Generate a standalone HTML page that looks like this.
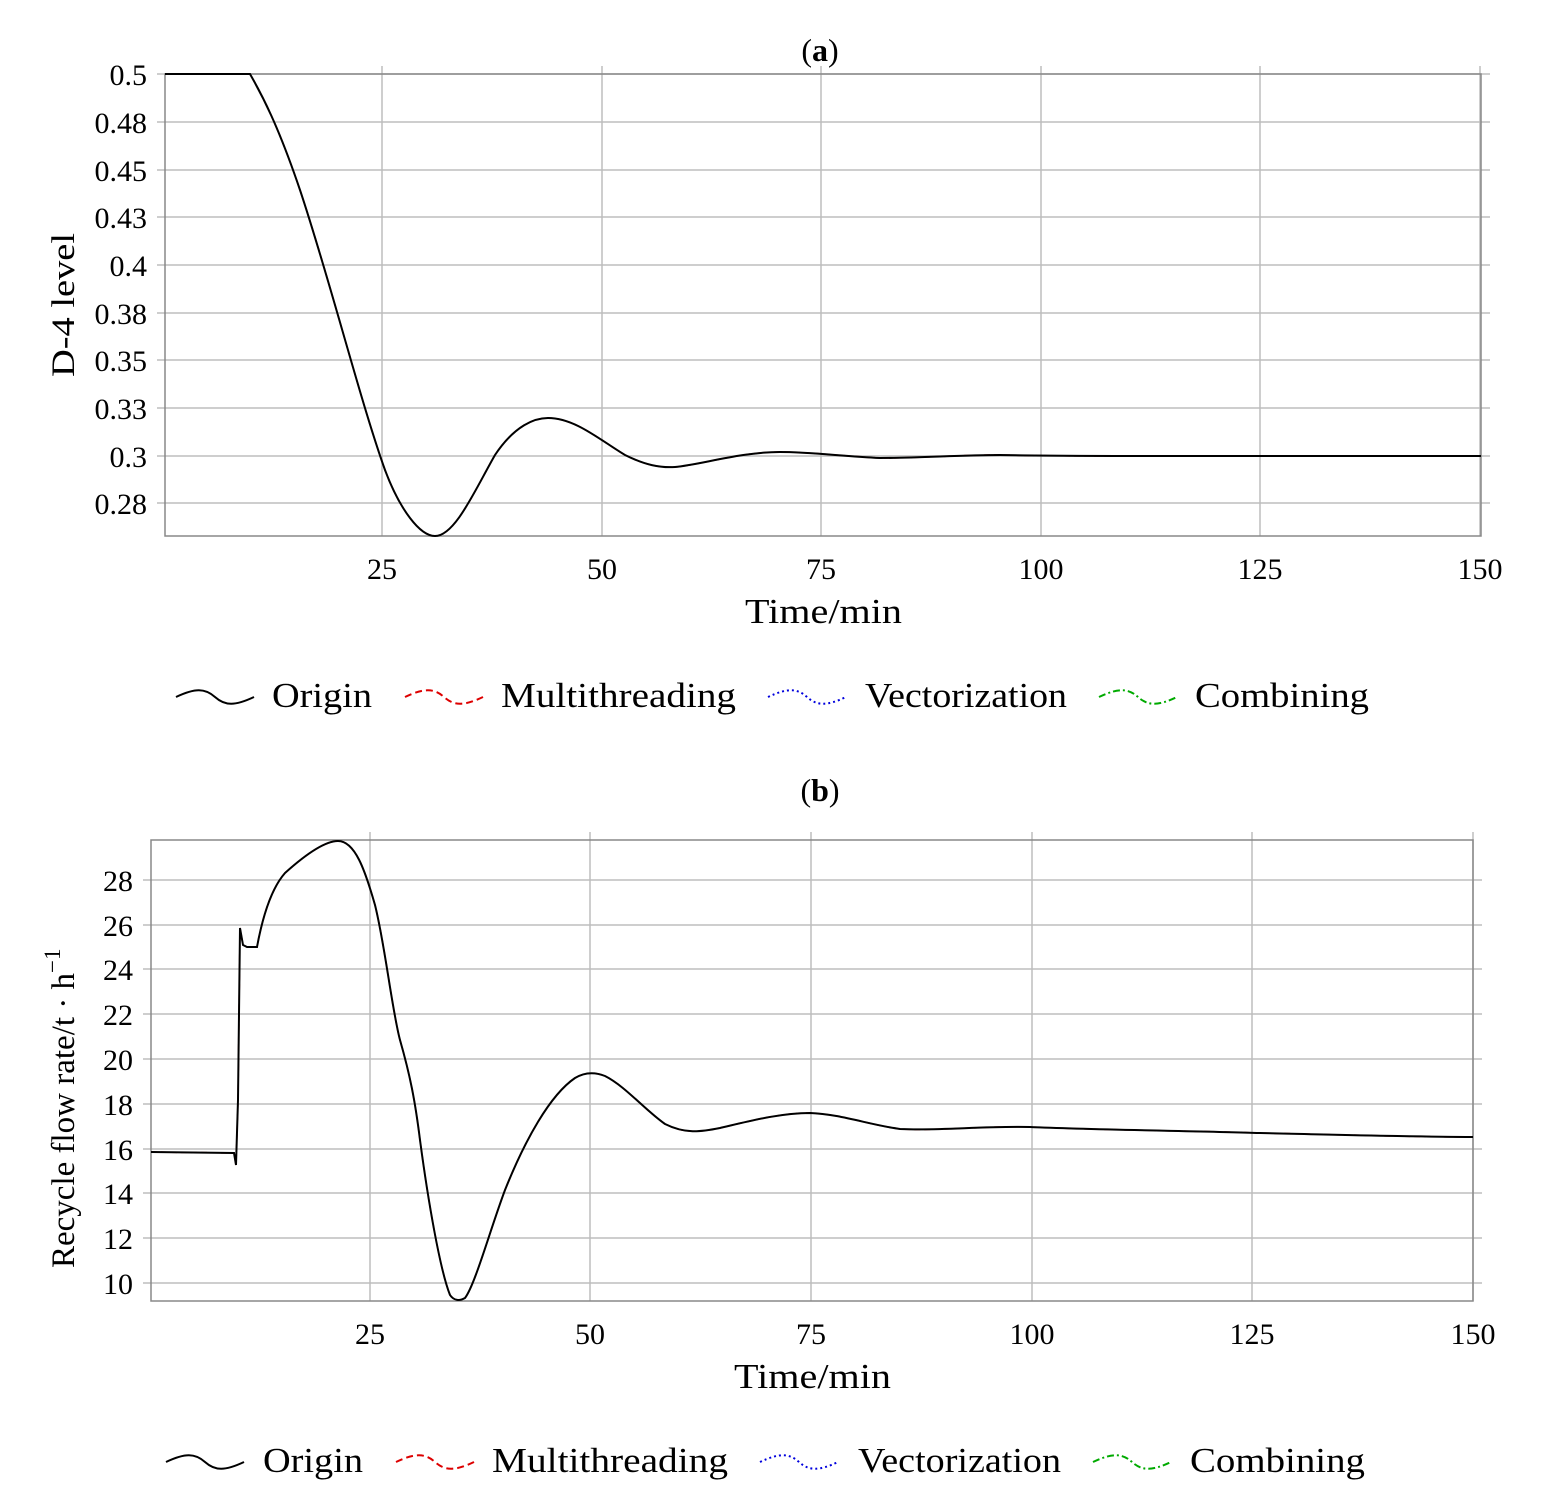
<!DOCTYPE html>
<html><head><meta charset="utf-8"><style>
body{margin:0;background:#fff}
svg{display:block;font-family:"Liberation Serif",serif}
</style></head><body>
<svg width="1547" height="1505" viewBox="0 0 1547 1505" xmlns="http://www.w3.org/2000/svg">
<!-- Plot A -->
<text x="820" y="61" font-size="32" text-anchor="middle">(<tspan font-weight="bold">a</tspan>)</text>
<g stroke="#bdbdbd" stroke-width="1.5">
<line x1="382" y1="66" x2="382" y2="536"/><line x1="602" y1="66" x2="602" y2="536"/><line x1="821" y1="66" x2="821" y2="536"/><line x1="1041" y1="66" x2="1041" y2="536"/><line x1="1260" y1="66" x2="1260" y2="536"/><line x1="1480" y1="66" x2="1480" y2="536"/>
<line x1="157" y1="74" x2="1490" y2="74"/><line x1="157" y1="122" x2="1490" y2="122"/><line x1="157" y1="170" x2="1490" y2="170"/><line x1="157" y1="217" x2="1490" y2="217"/><line x1="157" y1="265" x2="1490" y2="265"/><line x1="157" y1="313" x2="1490" y2="313"/><line x1="157" y1="360" x2="1490" y2="360"/><line x1="157" y1="408" x2="1490" y2="408"/><line x1="157" y1="456" x2="1490" y2="456"/><line x1="157" y1="503" x2="1490" y2="503"/>
</g>
<rect x="165" y="74" width="1316" height="462" fill="none" stroke="#888" stroke-width="1.5"/>
<g font-size="30" text-anchor="end">
<text x="147" y="85">0.5</text><text x="147" y="133">0.48</text><text x="147" y="181">0.45</text><text x="147" y="228">0.43</text><text x="147" y="276">0.4</text><text x="147" y="324">0.38</text><text x="147" y="371">0.35</text><text x="147" y="419">0.33</text><text x="147" y="467">0.3</text><text x="147" y="514">0.28</text>
</g>
<g font-size="30" text-anchor="middle">
<text x="382" y="579">25</text><text x="602" y="579">50</text><text x="821" y="579">75</text><text x="1041" y="579">100</text><text x="1260" y="579">125</text><text x="1480" y="579">150</text>
</g>
<text x="745" y="623" font-size="35" textLength="157" lengthAdjust="spacingAndGlyphs">Time/min</text>
<text transform="translate(74,377) rotate(-90)" font-size="33" textLength="144" lengthAdjust="spacingAndGlyphs">D-4 level</text>
<path d="M165,74 L250,74 C262,95 278,125 300,190 C330,280 360,400 385,470 C400,510 420,536 435,536 C455,536 475,490 495,455 C515,425 535,418 548,418 C575,418 600,440 625,455 C645,465 660,468 675,467 C700,465 740,452 780,452 C810,452 840,456 880,458 C920,458 960,455 1000,455 C1050,456 1100,456 1150,456 L1481,456" fill="none" stroke="#d00" stroke-width="1.5" stroke-dasharray="6,4"/>
<path d="M165,74 L250,74 C262,95 278,125 300,190 C330,280 360,400 385,470 C400,510 420,536 435,536 C455,536 475,490 495,455 C515,425 535,418 548,418 C575,418 600,440 625,455 C645,465 660,468 675,467 C700,465 740,452 780,452 C810,452 840,456 880,458 C920,458 960,455 1000,455 C1050,456 1100,456 1150,456 L1481,456" fill="none" stroke="#000" stroke-width="2"/>
<!-- Legend A -->
<g font-size="35">
<path d="M176,697 C195,688 205,688 215,697 C225,706 235,706 254,697" fill="none" stroke="#000" stroke-width="2"/>
<text x="272" y="707" textLength="100" lengthAdjust="spacingAndGlyphs">Origin</text>
<path d="M405,697 C424,688 434,688 444,697 C454,706 464,706 483,697" fill="none" stroke="#d00" stroke-width="2" stroke-dasharray="7,4"/>
<text x="501" y="707" textLength="235" lengthAdjust="spacingAndGlyphs">Multithreading</text>
<path d="M768,697 C787,688 797,688 807,697 C817,706 827,706 846,697" fill="none" stroke="#00d" stroke-width="2" stroke-dasharray="2,3"/>
<text x="865" y="707" textLength="202" lengthAdjust="spacingAndGlyphs">Vectorization</text>
<path d="M1099,697 C1118,688 1128,688 1138,697 C1148,706 1158,706 1177,697" fill="none" stroke="#0a0" stroke-width="2" stroke-dasharray="7,3,2,3"/>
<text x="1195" y="707" textLength="174" lengthAdjust="spacingAndGlyphs">Combining</text>
</g>
<!-- Plot B -->
<text x="820" y="801" font-size="32" text-anchor="middle">(<tspan font-weight="bold">b</tspan>)</text>
<g stroke="#bdbdbd" stroke-width="1.5">
<line x1="370" y1="832" x2="370" y2="1301"/><line x1="590" y1="832" x2="590" y2="1301"/><line x1="811" y1="832" x2="811" y2="1301"/><line x1="1032" y1="832" x2="1032" y2="1301"/><line x1="1252" y1="832" x2="1252" y2="1301"/><line x1="1473" y1="832" x2="1473" y2="1301"/>
<line x1="143" y1="880" x2="1482" y2="880"/><line x1="143" y1="925" x2="1482" y2="925"/><line x1="143" y1="969" x2="1482" y2="969"/><line x1="143" y1="1014" x2="1482" y2="1014"/><line x1="143" y1="1059" x2="1482" y2="1059"/><line x1="143" y1="1104" x2="1482" y2="1104"/><line x1="143" y1="1149" x2="1482" y2="1149"/><line x1="143" y1="1193" x2="1482" y2="1193"/><line x1="143" y1="1238" x2="1482" y2="1238"/><line x1="143" y1="1283" x2="1482" y2="1283"/>
</g>
<rect x="151" y="840" width="1322" height="461" fill="none" stroke="#888" stroke-width="1.5"/>
<g font-size="30" text-anchor="end">
<text x="133" y="891">28</text><text x="133" y="936">26</text><text x="133" y="980">24</text><text x="133" y="1025">22</text><text x="133" y="1070">20</text><text x="133" y="1115">18</text><text x="133" y="1160">16</text><text x="133" y="1204">14</text><text x="133" y="1249">12</text><text x="133" y="1294">10</text>
</g>
<g font-size="30" text-anchor="middle">
<text x="370" y="1344">25</text><text x="590" y="1344">50</text><text x="811" y="1344">75</text><text x="1032" y="1344">100</text><text x="1252" y="1344">125</text><text x="1473" y="1344">150</text>
</g>
<text x="734" y="1388" font-size="35" textLength="157" lengthAdjust="spacingAndGlyphs">Time/min</text>
<text transform="translate(74,1268) rotate(-90)" font-size="33">Recycle flow rate/t · h<tspan dy="-14" font-size="23">−1</tspan></text>
<path d="M151,1152 L234,1153 L236,1165 L238,1100 L240,928 L243,945 L247,947 L257,947 C262,920 270,890 285,873 C305,855 325,841 338,841 C355,841 365,870 375,905 C385,945 392,1010 400,1040 C410,1075 415,1100 420,1140 C428,1200 440,1270 450,1295 C454,1301 460,1301 465,1298 C475,1285 490,1230 505,1190 C525,1140 550,1095 575,1078 C585,1072 595,1072 605,1076 C625,1086 645,1110 665,1124 C685,1134 700,1132 720,1128 C750,1121 780,1113 810,1113 C840,1114 870,1125 900,1129 C940,1131 980,1126 1030,1127 C1100,1130 1200,1131 1260,1133 C1350,1135 1420,1137 1473,1137" fill="none" stroke="#d00" stroke-width="1.5" stroke-dasharray="6,4"/>
<path d="M151,1152 L234,1153 L236,1165 L238,1100 L240,928 L243,945 L247,947 L257,947 C262,920 270,890 285,873 C305,855 325,841 338,841 C355,841 365,870 375,905 C385,945 392,1010 400,1040 C410,1075 415,1100 420,1140 C428,1200 440,1270 450,1295 C454,1301 460,1301 465,1298 C475,1285 490,1230 505,1190 C525,1140 550,1095 575,1078 C585,1072 595,1072 605,1076 C625,1086 645,1110 665,1124 C685,1134 700,1132 720,1128 C750,1121 780,1113 810,1113 C840,1114 870,1125 900,1129 C940,1131 980,1126 1030,1127 C1100,1130 1200,1131 1260,1133 C1350,1135 1420,1137 1473,1137" fill="none" stroke="#000" stroke-width="2"/>
<!-- Legend B -->
<g font-size="35">
<path d="M166,1462 C185,1453 195,1453 205,1462 C215,1471 225,1471 244,1462" fill="none" stroke="#000" stroke-width="2"/>
<text x="263" y="1472" textLength="100" lengthAdjust="spacingAndGlyphs">Origin</text>
<path d="M396,1462 C415,1453 425,1453 435,1462 C445,1471 455,1471 474,1462" fill="none" stroke="#d00" stroke-width="2" stroke-dasharray="7,4"/>
<text x="492" y="1472" textLength="236" lengthAdjust="spacingAndGlyphs">Multithreading</text>
<path d="M760,1462 C779,1453 789,1453 799,1462 C809,1471 819,1471 838,1462" fill="none" stroke="#00d" stroke-width="2" stroke-dasharray="2,3"/>
<text x="858" y="1472" textLength="203" lengthAdjust="spacingAndGlyphs">Vectorization</text>
<path d="M1093,1462 C1112,1453 1122,1453 1132,1462 C1142,1471 1152,1471 1171,1462" fill="none" stroke="#0a0" stroke-width="2" stroke-dasharray="7,3,2,3"/>
<text x="1190" y="1472" textLength="175" lengthAdjust="spacingAndGlyphs">Combining</text>
</g>
</svg>
</body></html>
